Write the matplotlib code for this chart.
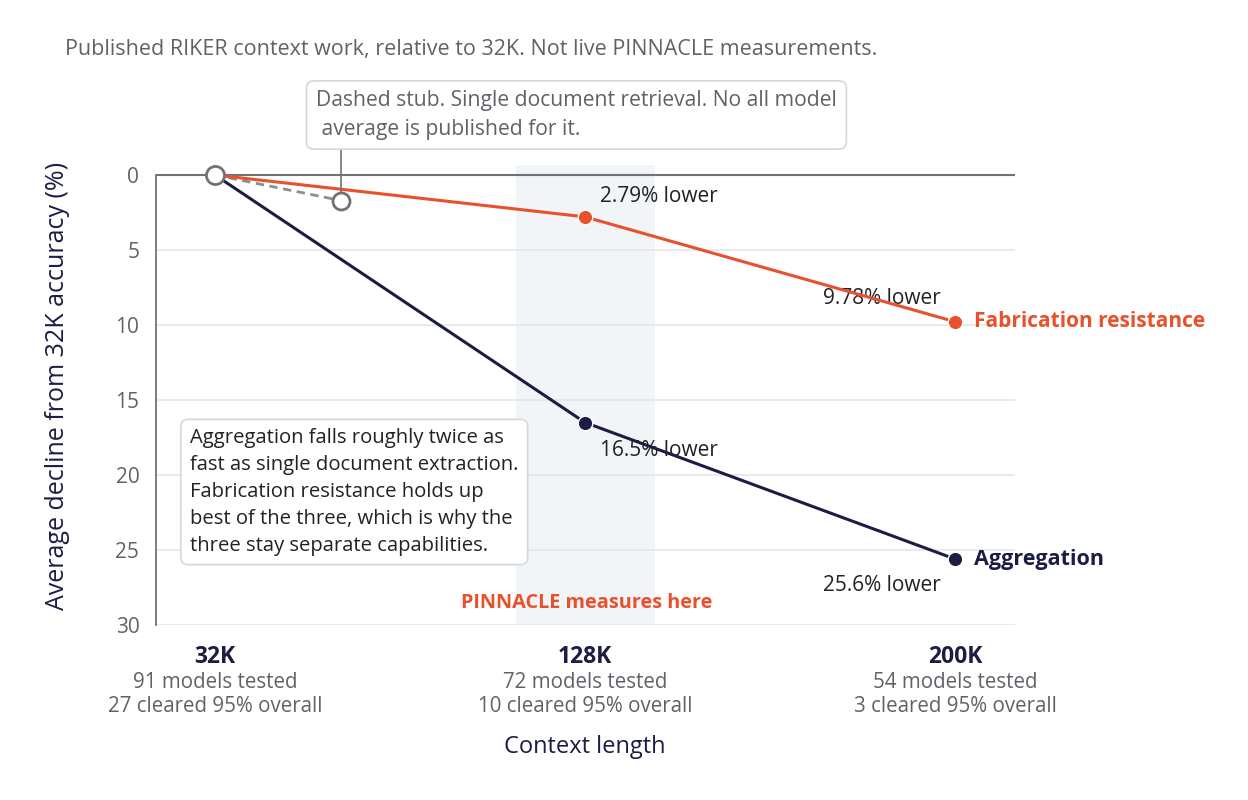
import matplotlib.pyplot as plt
from matplotlib.transforms import blended_transform_factory

# data
contexts = ['32K', '128K', '200K']
models_tested = [91, 72, 54]
cleared_95 = [27, 10, 3]
fabrication = [0, 2.79, 9.78]
aggregation = [0, 16.5, 25.6]
fab_labels = ['', '2.79% lower', '9.78% lower']
agg_labels = ['', '16.5% lower', '25.6% lower']
stub_x = [0, 0.34]
stub_y = [0, 1.7]
yticks = [0, 5, 10, 15, 20, 25, 30]

ORANGE = '#e8512c'
NAVY = '#1b1d44'
GRAY = '#5f6368'
GRID = '#e4e6e8'

plt.rcParams['font.family'] = ['Open Sans', 'DejaVu Sans']

fig = plt.figure(figsize=(12.48, 8), dpi=100)
ax = fig.add_axes([156 / 1248, 1 - 625 / 800, (1015 - 156) / 1248, (625 - 165) / 800])

x = list(range(len(contexts)))
ax.set_xlim(-(215 - 156) / 370, 2 + (1015 - 955) / 370)
ax.set_ylim(30, -10 / 15)

# shaded band around 128K
ax.axvspan((516 - 215) / 370, (655 - 215) / 370, color='#eef3f7', alpha=0.8, zorder=0, lw=0)

# grid
for t in yticks[1:]:
    ax.axhline(t, color=GRID, lw=1.2, zorder=1)
ax.axhline(0, color='#6f7378', lw=1.5, zorder=1)

ax.set_yticks(yticks)
ax.set_yticklabels([str(t) for t in yticks], fontsize=15, color=GRAY)
ax.tick_params(axis='y', length=0, pad=12)
ax.set_xticks([])
for s in ['top', 'right', 'bottom']:
    ax.spines[s].set_visible(False)
ax.spines['left'].set_bounds(0, 30)
ax.spines['left'].set_color('#6f7378')
ax.spines['left'].set_linewidth(1.3)

# lines
ax.plot(stub_x, stub_y, color='#8a8e93', lw=2, ls=(0, (3, 2)), zorder=3)
ax.plot(x, aggregation, color=NAVY, lw=2.2, zorder=4)
ax.plot(x, fabrication, color=ORANGE, lw=2.2, zorder=4)
ax.scatter(x[1:], aggregation[1:], s=110, color=NAVY, zorder=5, edgecolors='white', linewidths=1)
ax.scatter(x[1:], fabrication[1:], s=110, color=ORANGE, zorder=5, edgecolors='white', linewidths=1)
ax.scatter([stub_x[1]], [stub_y[1]], s=150, facecolor='white', edgecolor='#6f7378', lw=2, zorder=6)
ax.scatter([0], [0], s=170, facecolor='white', edgecolor='#6f7378', lw=2, zorder=6)

# connector from the stub note down to the stub end
ax.plot([stub_x[1], stub_x[1]], [-25 / 15, stub_y[1] - 0.55], color='#6f7378', lw=1.2,
        zorder=5, clip_on=False)

# value labels
ax.annotate(fab_labels[1], (x[1], fabrication[1]), xytext=(11, 15), textcoords='offset points',
            ha='left', va='center', fontsize=15, color='#222222', zorder=7)
ax.annotate(fab_labels[2], (x[2], fabrication[2]), xytext=(-10, 17), textcoords='offset points',
            ha='right', va='center', fontsize=15, color='#222222', zorder=3)
ax.annotate(agg_labels[1], (x[1], aggregation[1]), xytext=(11, -20), textcoords='offset points',
            ha='left', va='center', fontsize=15, color='#222222', zorder=3)
ax.annotate(agg_labels[2], (x[2], aggregation[2]), xytext=(-10, -19), textcoords='offset points',
            ha='right', va='center', fontsize=15, color='#222222', zorder=3)

# series labels
ax.annotate('Fabrication resistance', (x[2], fabrication[2]), xytext=(14, 0), textcoords='offset points',
            ha='left', va='center', fontsize=15, fontweight='bold', color=ORANGE, annotation_clip=False)
ax.annotate('Aggregation', (x[2], aggregation[2]), xytext=(14, 0), textcoords='offset points',
            ha='left', va='center', fontsize=15.5, fontweight='bold', color=NAVY, annotation_clip=False)

ax.text((587 - 215) / 370, 28.5, 'PINNACLE measures here', ha='center', va='center',
        fontsize=14.3, fontweight='bold', color=ORANGE)

# note box for the stub
fig.text(316 / 1248, 1 - 115 / 800,
         'Dashed stub. Single document retrieval. No all model\n average is published for it.',
         ha='left', va='center', fontsize=15.2, color=GRAY, linespacing=1.45, zorder=8,
         bbox=dict(boxstyle='round,pad=0.45,rounding_size=0.35', fc='white', ec='#d5d8db', lw=1.2))

# summary note
ax.text((190 - 215) / 370, (492 - 175) / 15,
        'Aggregation falls roughly twice as\nfast as single document extraction.\n'
        'Fabrication resistance holds up\nbest of the three, which is why the\n'
        'three stay separate capabilities.',
        ha='left', va='center', fontsize=14.6, color='#222222', linespacing=1.45, zorder=8,
        bbox=dict(boxstyle='round,pad=0.45,rounding_size=0.35', fc='white', ec='#d5d8db', lw=1.2))

# category labels under the axis
tr = blended_transform_factory(ax.transData, fig.transFigure)
for i, c in enumerate(contexts):
    ax.text(x[i], 1 - 657 / 800, c, transform=tr, ha='center', va='center',
            fontsize=16.5, fontweight='bold', color=NAVY)
    ax.text(x[i], 1 - 682 / 800, f'{models_tested[i]} models tested', transform=tr,
            ha='center', va='center', fontsize=14.8, color=GRAY)
    ax.text(x[i], 1 - 706 / 800, f'{cleared_95[i]} cleared 95% overall', transform=tr,
            ha='center', va='center', fontsize=14.8, color=GRAY)

fig.text(585 / 1248, 1 - 747 / 800, 'Context length', ha='center', va='center', fontsize=17, color=NAVY)
fig.text(58 / 1248, 1 - 386 / 800, 'Average decline from 32K accuracy (%)', rotation=90,
         ha='center', va='center', fontsize=18, color=NAVY)
fig.text(65 / 1248, 1 - 50 / 800,
         'Published RIKER context work, relative to 32K. Not live PINNACLE measurements.',
         ha='left', va='center', fontsize=15.5, color=GRAY)

fig.savefig('out.png', dpi=100, facecolor='white')
